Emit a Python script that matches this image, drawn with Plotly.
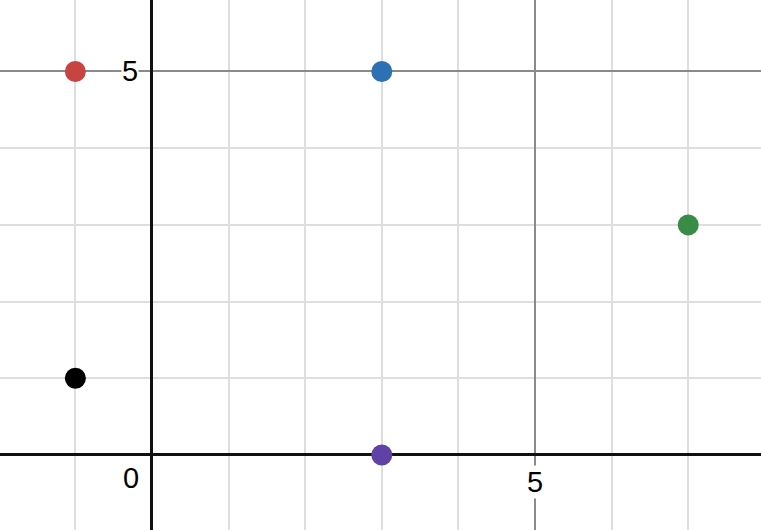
import plotly.graph_objects as go

# Data points (x, y) and colours
point_x = [-1, 3, 7, -1, 3]
point_y = [5, 5, 3, 1, 0]
point_colors = ["#c74440", "#2d70b3", "#388c46", "#000000", "#6042a6"]

# Tick labels
x_tick_vals = [5]
x_tick_text = ["5"]
y_tick_vals = [5]
y_tick_text = ["5"]
origin_text = "0"

W, H = 761, 530
x_range = [-1.984, 7.95]
y_range = [-0.978, 5.932]

fig = go.Figure()
fig.add_trace(go.Scatter(
    x=point_x, y=point_y, mode="markers",
    marker=dict(size=21, color=point_colors, line=dict(width=0)),
    hoverinfo="x+y", showlegend=False,
))

axis_common = dict(
    showgrid=True, gridcolor="#8a8a8a", gridwidth=1.5,
    dtick=5, tick0=0,
    minor=dict(dtick=1, tick0=0, showgrid=True, gridcolor="#dedede", gridwidth=1.5),
    zeroline=True, zerolinecolor="#111111", zerolinewidth=3,
    showticklabels=False, ticks="", showline=False, fixedrange=True,
)
fig.update_xaxes(range=x_range, **axis_common)
fig.update_yaxes(range=y_range, **axis_common)

font = dict(family="Liberation Sans, Arial, sans-serif", size=29, color="#000000")
annotations = []
for v, t in zip(x_tick_vals, x_tick_text):
    annotations.append(dict(x=v, y=-0.35, text=t, showarrow=False, font=font,
                            bgcolor="white", borderpad=0, xref="x", yref="y"))
for v, t in zip(y_tick_vals, y_tick_text):
    annotations.append(dict(x=-0.287, y=v, text=t, showarrow=False, font=font,
                            bgcolor="white", borderpad=0, xref="x", yref="y"))
annotations.append(dict(x=-0.27, y=-0.30, text=origin_text, showarrow=False, font=font,
                        bgcolor="white", borderpad=0, xref="x", yref="y"))

fig.update_layout(
    width=W, height=H, margin=dict(l=0, r=0, t=0, b=0),
    paper_bgcolor="white", plot_bgcolor="white",
    annotations=annotations,
)

fig.write_html("out.html", config={"displayModeBar": False},
               post_script="document.body.style.margin='0';document.body.style.padding='0';")
